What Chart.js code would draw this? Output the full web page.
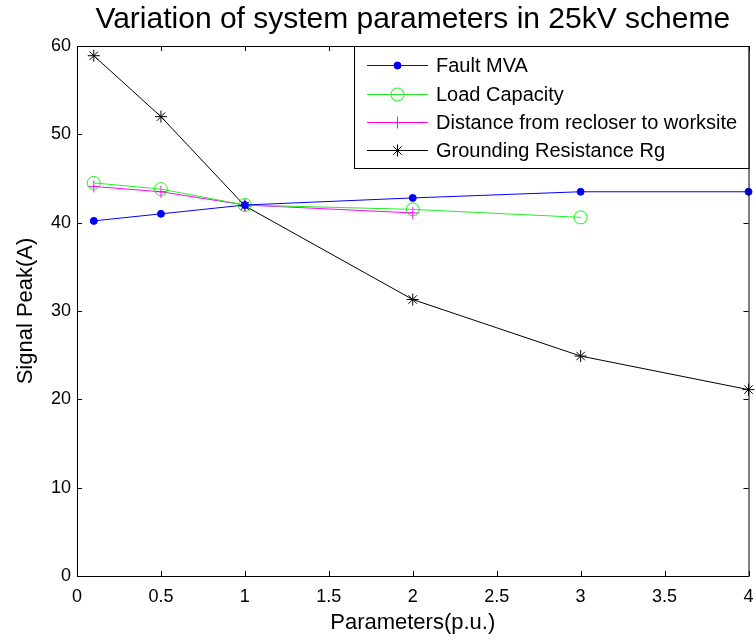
<!DOCTYPE html>
<html>
<head>
<meta charset="utf-8">
<script src="https://cdn.jsdelivr.net/npm/chart.js@4.4.1/dist/chart.umd.min.js"></script>
<style>
  html, body { margin: 0; padding: 0; background: #ffffff; }
  #wrap { width: 756px; height: 640px; }
</style>
</head>
<body>
<div id="wrap"><canvas id="chart" width="756" height="640"></canvas></div>
<script>
// x positions (p.u.) for each series
const faultX = [0.1, 0.5, 1, 2, 3, 4];
const loadX = [0.1, 0.5, 1, 2, 3];
const distX = [0.1, 0.5, 1, 2];
const groundX = [0.1, 0.5, 1, 2, 3, 4];

// signal peak (A)
const faultMVA = [40.2, 41.0, 42.0, 42.8, 43.5, 43.5];
const loadCapacity = [44.5, 43.8, 42.0, 41.5, 40.6];
const distanceRecloser = [44.1, 43.5, 42.0, 41.1];
const groundingRg = [58.9, 52.0, 41.9, 31.3, 24.9, 21.1];

const seriesNames = ['Fault MVA', 'Load Capacity', 'Distance from recloser to worksite', 'Grounding Resistance Rg'];
const xTicks = [0, 0.5, 1, 1.5, 2, 2.5, 3, 3.5, 4];
const yTicks = [0, 10, 20, 30, 40, 50, 60];

const FONT = '"Liberation Sans", Arial, Helvetica, sans-serif';

const pts = (xs, ys) => xs.map((x, i) => ({ x, y: ys[i] }));

// box around the axes with inward tick marks on all sides
const boxPlugin = {
  id: 'box',
  afterDraw(chart) {
    const { ctx, chartArea: a, scales } = chart;
    ctx.save();
    ctx.strokeStyle = '#000';
    ctx.lineWidth = 1;
    ctx.strokeRect(a.left + 0.5, a.top + 0.5, a.right - a.left, a.bottom - a.top);
    const len = 5;
    ctx.beginPath();
    xTicks.forEach(v => {
      const px = Math.round(scales.x.getPixelForValue(v)) + 0.5;
      ctx.moveTo(px, a.bottom); ctx.lineTo(px, a.bottom - len);
      ctx.moveTo(px, a.top); ctx.lineTo(px, a.top + len);
    });
    yTicks.forEach(v => {
      const py = Math.round(scales.y.getPixelForValue(v)) + 0.5;
      ctx.moveTo(a.left, py); ctx.lineTo(a.left + len, py);
      ctx.moveTo(a.right, py); ctx.lineTo(a.right - len, py);
    });
    ctx.stroke();
    ctx.restore();
  }
};

// legend box in the upper right corner of the plot
const legendPlugin = {
  id: 'boxLegend',
  afterDraw(chart) {
    const { ctx, chartArea: a } = chart;
    const left = 354, top = a.top, right = a.right, bottom = 168;
    const rows = [65, 94, 122, 150];
    ctx.save();
    ctx.fillStyle = '#fff';
    ctx.fillRect(left, top, right - left, bottom - top);
    ctx.strokeStyle = '#000';
    ctx.lineWidth = 1;
    ctx.strokeRect(left + 0.5, top + 0.5, right - left, bottom - top);
    chart.data.datasets.forEach((ds, i) => {
      const y = rows[i] + 0.5;
      ctx.strokeStyle = ds.borderColor;
      ctx.lineWidth = 1;
      ctx.beginPath();
      ctx.moveTo(367, y); ctx.lineTo(428, y);
      ctx.stroke();
      ctx.fillStyle = ds.pointBackgroundColor;
      ctx.strokeStyle = ds.pointBorderColor;
      Chart.helpers.drawPoint(ctx, {
        pointStyle: ds.pointStyle,
        radius: ds.pointRadius,
        borderWidth: 1,
        rotation: 0
      }, 397.5, y);
      ctx.fillStyle = '#000';
      ctx.font = '20px ' + FONT;
      ctx.textBaseline = 'middle';
      ctx.textAlign = 'left';
      ctx.fillText(seriesNames[i], 436, y + 1);
    });
    ctx.restore();
  }
};

function series(label, data, color, style, radius, filled) {
  return {
    label, data,
    borderColor: color,
    backgroundColor: filled ? color : 'rgba(0,0,0,0)',
    pointBackgroundColor: filled ? color : 'rgba(0,0,0,0)',
    pointBorderColor: color,
    pointStyle: style,
    pointRadius: radius,
    pointBorderWidth: 1,
    borderWidth: 1,
    tension: 0,
    clip: false
  };
}

new Chart(document.getElementById('chart'), {
  type: 'line',
  data: {
    datasets: [
      series(seriesNames[0], pts(faultX, faultMVA), '#0000ff', 'circle', 3.5, true),
      series(seriesNames[1], pts(loadX, loadCapacity), '#22ee22', 'circle', 6.5, false),
      series(seriesNames[2], pts(distX, distanceRecloser), '#ff00ff', 'cross', 6, false),
      series(seriesNames[3], pts(groundX, groundingRg), '#000000', 'star', 6, false)
    ]
  },
  options: {
    responsive: false,
    animation: false,
    events: [],
    layout: { padding: { left: 0, right: 6, top: 0, bottom: 0 } },
    plugins: {
      legend: { display: false },
      tooltip: { enabled: false },
      title: {
        display: true,
        fullSize: false,
        text: 'Variation of system parameters in 25kV scheme',
        color: '#000',
        font: { family: FONT, size: 30, weight: 'normal', lineHeight: 1.2 },
        padding: { top: 2, bottom: 8 }
      }
    },
    scales: {
      x: {
        type: 'linear',
        min: 0, max: 4,
        afterBuildTicks: s => { s.ticks = xTicks.map(v => ({ value: v })); },
        afterFit: s => { s.height = 64; s.paddingLeft = 0; s.paddingRight = 0; },
        grid: { display: false, drawTicks: false },
        border: { display: false },
        ticks: {
          color: '#000', font: { family: FONT, size: 18 }, padding: 10,
          maxRotation: 0, autoSkip: false,
          callback: v => String(v)
        },
        title: { display: true, text: 'Parameters(p.u.)', color: '#000', font: { family: FONT, size: 22 }, padding: { top: 0, bottom: 4 } }
      },
      y: {
        type: 'linear',
        min: 0, max: 60,
        afterBuildTicks: s => { s.ticks = yTicks.map(v => ({ value: v })); },
        afterFit: s => { s.width = 77; },
        grid: { display: false, drawTicks: false },
        border: { display: false },
        ticks: { color: '#000', font: { family: FONT, size: 18 }, padding: 6, callback: v => String(v) },
        title: { display: true, text: 'Signal Peak(A)', color: '#000', font: { family: FONT, size: 22 }, padding: { top: 13, bottom: 0 } }
      }
    }
  },
  plugins: [boxPlugin, legendPlugin]
});
</script>
</body>
</html>
